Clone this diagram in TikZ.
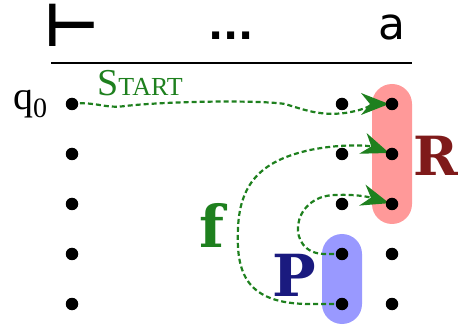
\documentclass[tikz,border=0pt]{standalone}
\usepackage{fontspec}
\setmainfont{Liberation Serif}
\newfontfamily\djsans{DejaVu Sans}
\newfontfamily\djserif{DejaVu Serif}
\usetikzlibrary{arrows.meta}
\definecolor{rfill}{RGB}{255,153,153}
\definecolor{pfill}{RGB}{153,153,255}
\definecolor{rtext}{RGB}{127,26,26}
\definecolor{ptext}{RGB}{26,26,127}
\definecolor{gr}{RGB}{30,128,30}
\tikzset{
  blackdot/.style={circle,fill=black,inner sep=0pt,minimum size=12.5pt},
  capsule/.style={rounded corners=20pt},
  trans/.style={draw=gr,line width=2.2pt,dash pattern=on 5pt off 3pt,
    -{Stealth[length=28pt,width=22pt,inset=9pt,fill=gr,line width=0pt]},shorten >=3pt},
  lbl/.style={inner sep=0pt,anchor=center}
}
\begin{document}
\begin{tikzpicture}[x=1pt,y=-1pt]
\useasboundingbox (0,0) rectangle (458,331);
% capsules
\fill[rfill,capsule] (372,84) rectangle (412,224);
\fill[pfill,capsule] (322,234) rectangle (362,324);
% header
\node[lbl] (h1) at (72,25) {\djsans\bfseries\fontsize{60}{60}\selectfont ⊢};
\node[lbl] (h2) at (231,36) {\djsans\bfseries\fontsize{40}{40}\selectfont ...};
\node[lbl] (h3) at (392,27) {\djsans\fontsize{44}{44}\selectfont a};
\draw[line width=1.5pt] (51,63) -- (412,63);
% dots as named coordinates
\foreach \r/\y in {0/104,1/154,2/204,3/254,4/304}{
  \foreach \c/\x in {0/72,1/342,2/392}{
    \coordinate (d\r\c) at (\x,\y);
  }
}
% labels
\node[lbl] (q) at (30,104) {\fontsize{40}{40}\selectfont q\raisebox{-0.2em}{\fontsize{28}{28}\selectfont 0}};
\node[lbl,text=gr] (start) at (140,83) {\fontsize{38}{38}\selectfont S\fontsize{26}{26}\selectfont TART};
\node[lbl,text=rtext] (R) at (436,156) {\djserif\bfseries\fontsize{54}{54}\selectfont R};
\node[lbl,text=ptext] (P) at (294,275) {\djserif\bfseries\fontsize{58}{58}\selectfont P};
\node[lbl,text=gr] (F) at (212,225) {\djserif\bfseries\fontsize{58}{58}\selectfont f};
% transitions
\draw[trans] (d00) .. controls (95,101) and (105,109) .. (125,106)
  .. controls (170,101) and (260,100) .. (285,104)
  .. controls (305,110) and (320,116) .. (345,113)
  .. controls (365,110) and (375,104) .. (d02);
\draw[trans] (d31) -- (325,254) .. controls (285,254) and (290,196) .. (335,195)
  .. controls (360,194) and (372,198) .. (d22);
\draw[trans] (d41) -- (310,304) .. controls (245,304) and (236,272) .. (238,228)
  .. controls (240,180) and (265,160) .. (310,150)
  .. controls (345,143) and (370,146) .. (d12);
% dots
\foreach \r in {0,...,4}{\foreach \c in {0,1,2}{\node[blackdot] (n\r\c) at (d\r\c) {};}}
\end{tikzpicture}
\end{document}
